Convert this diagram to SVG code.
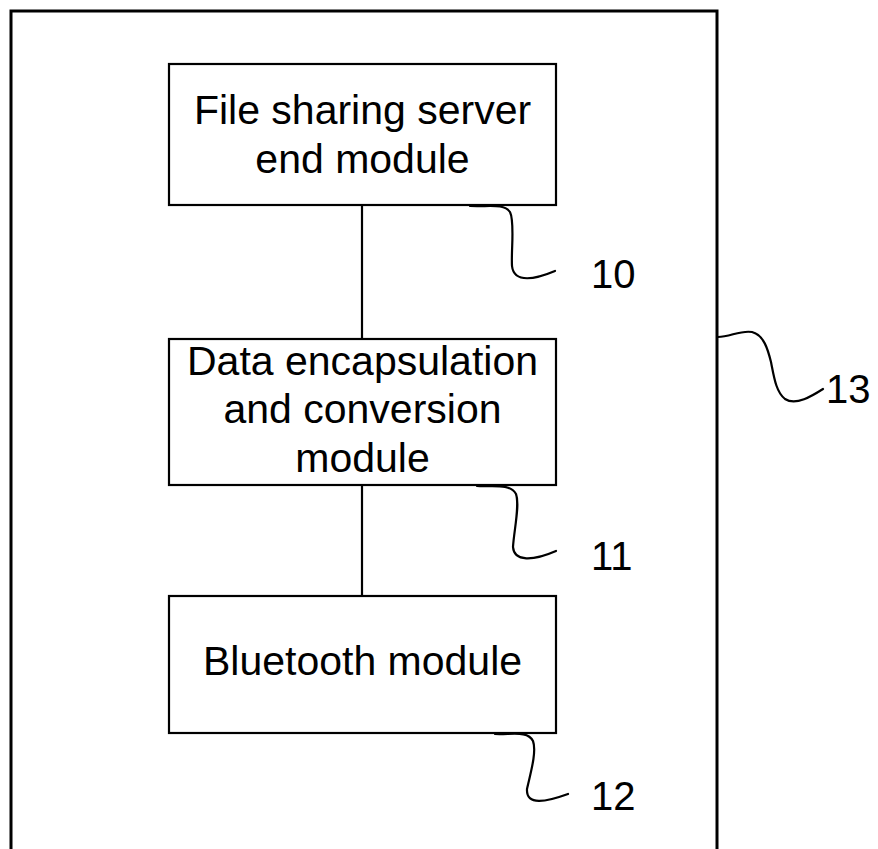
<svg xmlns="http://www.w3.org/2000/svg" width="878" height="849" viewBox="0 0 878 849">
<style>
.box{fill:#fff;stroke:#000;stroke-width:2.2}
.t{font-family:"Liberation Sans",Arial,sans-serif;font-size:41px;fill:#000;text-anchor:middle}
.lbl{font-family:"Liberation Sans",Arial,sans-serif;font-size:40px;fill:#000}
.lead{fill:none;stroke:#000;stroke-width:2.2;stroke-linecap:round}
.conn{stroke:#000;stroke-width:2.2}
</style>
<rect width="878" height="849" fill="#fff"/>
<g id="system13">
<rect x="11" y="11" width="706" height="860" fill="none" stroke="#000" stroke-width="3"/>
<path class="lead" d="M718,337 C730,337 740,330 752,332 C764,335 768,350 771,362 C774,377 776,392 785,399 C796,406 812,396 823,389"/>
<text class="lbl" x="826" y="403">13</text>
</g>
<g id="connectors">
<line class="conn" x1="362" y1="205" x2="362" y2="339"/>
<line class="conn" x1="362" y1="485" x2="362" y2="596"/>
</g>
<g id="module10">
<rect class="box" x="169" y="64" width="387" height="141"/>
<text class="t" x="362.5" y="124">File sharing server</text>
<text class="t" x="362.5" y="173">end module</text>
<path class="lead" d="M470,206 C488,207 504,203 510,212 C515,222 511,250 512,266 C514,284 536,279 555,271"/>
<text class="lbl" x="591" y="288">10</text>
</g>
<g id="module11">
<rect class="box" x="169" y="339" width="387" height="146"/>
<text class="t" x="362.5" y="375">Data encapsulation</text>
<text class="t" x="362.5" y="423">and conversion</text>
<text class="t" x="362.5" y="472">module</text>
<path class="lead" d="M477,486 C492,487 510,483 516,494 C520,505 514,530 513,547 C514,562 533,561 556,551"/>
<text class="lbl" x="591" y="570">11</text>
</g>
<g id="module12">
<rect class="box" x="169" y="596" width="387" height="137"/>
<text class="t" x="362.5" y="675">Bluetooth module</text>
<path class="lead" d="M495,734 C510,735 528,730 533,741 C537,752 530,775 527,789 C526,806 546,802 568,794"/>
<text class="lbl" x="591" y="810">12</text>
</g>
</svg>
